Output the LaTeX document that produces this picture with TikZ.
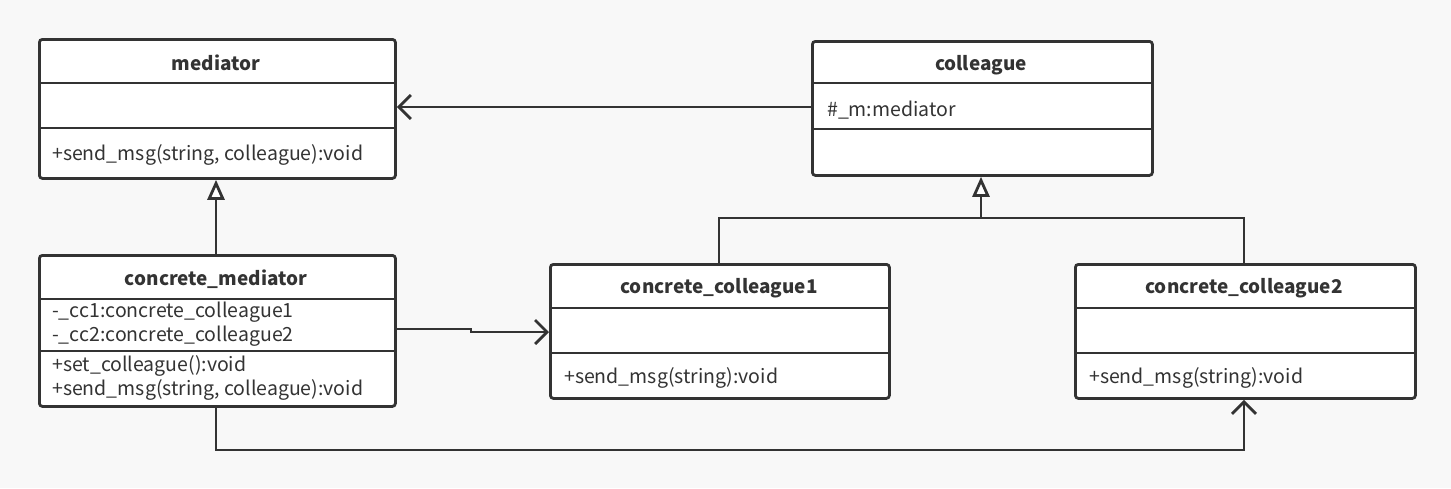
\documentclass[tikz,border=0pt]{standalone}
\usepackage{fontspec}
\setmainfont{Noto Sans CJK SC}
\usetikzlibrary{arrows.meta}
\definecolor{bg}{HTML}{F8F8F8}
\definecolor{lc}{HTML}{333333}
\tikzset{
  classbox/.style={draw=lc, line width=2.8pt, fill=white, rounded corners=3pt, rectangle, inner sep=0pt, anchor=north west},
  divider/.style={draw=lc, line width=2.6pt},
  conn/.style={draw=lc, line width=2.8pt},
  title/.style={font=\fontsize{18.9}{22}\selectfont\bfseries, text=lc, inner sep=0pt},
  attr/.style={font=\fontsize{19.5}{22}\selectfont, text=lc, inner sep=0pt, anchor=west},
  open/.style={-{Straight Barb[length=12pt,width=24pt,line width=2.8pt]}},
  inherit/.style={-{Triangle[open,length=20pt,width=17pt,line width=2.8pt,fill=white]}},
}
\begin{document}
\begin{tikzpicture}[x=1pt,y=-1pt]
\fill[bg] (0,0) rectangle (1451,488);
\useasboundingbox (0,0) rectangle (1451,488);

% mediator
\node[classbox, minimum width=356pt, minimum height=139pt] (med) at (38,38) {};
\draw[divider] (38,83) -- (394,83);
\draw[divider] (38,128) -- (394,128);
\node[title] (medT) at (216,63) {mediator};
\node[attr] (medM) at (52,155) {+send\_msg(string, colleague):void};

% colleague
\node[classbox, minimum width=340pt, minimum height=134pt] (col) at (811,40) {};
\draw[divider] (811,83) -- (1151,83);
\draw[divider] (811,129) -- (1151,129);
\node[title] (colT) at (981,65) {colleague};
\node[attr] (colA) at (827,110) {\#\_m:mediator};

% concrete_mediator
\node[classbox, minimum width=356pt, minimum height=151pt] (cm) at (38,254) {};
\draw[divider] (38,299) -- (394,299);
\draw[divider] (38,351) -- (394,351);
\node[title] (cmT) at (216,279) {concrete\_mediator};
\node[attr] (cmA1) at (52,312) {-\_cc1:concrete\_colleague1};
\node[attr] (cmA2) at (52,336) {-\_cc2:concrete\_colleague2};
\node[attr] (cmM1) at (52,366) {+set\_colleague():void};
\node[attr] (cmM2) at (52,390) {+send\_msg(string, colleague):void};

% concrete_colleague1
\node[classbox, minimum width=339pt, minimum height=134pt] (cc1) at (549,263) {};
\draw[divider] (549,308) -- (888,308);
\draw[divider] (549,353) -- (888,353);
\node[title] (cc1T) at (719,288) {concrete\_colleague1};
\node[attr] (cc1M) at (564,378) {+send\_msg(string):void};

% concrete_colleague2
\node[classbox, minimum width=340pt, minimum height=134pt] (cc2) at (1074,263) {};
\draw[divider] (1074,308) -- (1414,308);
\draw[divider] (1074,353) -- (1414,353);
\node[title] (cc2T) at (1244,288) {concrete\_colleague2};
\node[attr] (cc2M) at (1089,378) {+send\_msg(string):void};

% connectors
\coordinate (j) at (981,218);
\draw[conn, open] (col.west |- 0,107) -- (med.east |- 0,107);
\draw[conn, inherit] (cm.north -| 216,0) -- (med.south -| 216,0);
\draw[conn] (cc1.north -| 719,0) |- (j);
\draw[conn] (cc2.north -| 1244,0) |- (j);
\draw[conn, inherit] (j) -- (col.south -| 981,0);
\draw[conn, open] (cm.east |- 0,329) -- (471,329) -- (471,332) -- (cc1.west |- 0,332);
\draw[conn, open] (cm.south -| 216,0) -- (216,450) -- (1244,450) -- (cc2.south -| 1244,0);
\end{tikzpicture}
\end{document}
